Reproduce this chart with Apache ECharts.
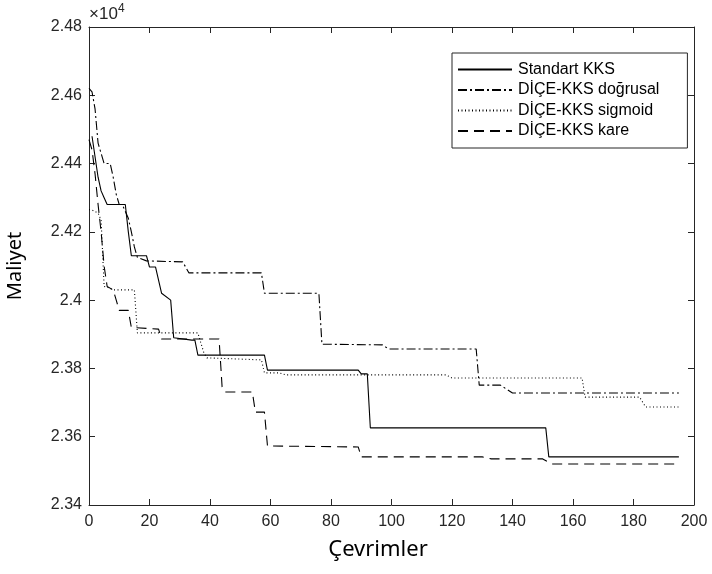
<!DOCTYPE html>
<html>
<head>
<meta charset="utf-8">
<script src="https://cdn.jsdelivr.net/npm/echarts@6/dist/echarts.min.js"></script>
<style>html,body{margin:0;padding:0;background:#fff}#c{width:712px;height:574px}</style>
</head>
<body>
<div id="c"></div>
<script>
// Values in units of 10^4
const seriesNames = ['Standart KKS', 'DİÇE-KKS doğrusal', 'DİÇE-KKS sigmoid', 'DİÇE-KKS kare'];

const stdX = [1, 2, 3, 4, 5, 6, 12, 13, 14, 19, 20, 22, 24, 27, 28, 34, 35, 36, 58, 59, 89, 90, 92, 93, 151, 152, 195];
const stdY = [2.448, 2.442, 2.436, 2.432, 2.430, 2.428, 2.428, 2.420, 2.413, 2.413, 2.4097, 2.4097, 2.402, 2.400, 2.389, 2.3883, 2.3883, 2.3839, 2.3839, 2.3795, 2.3795, 2.3784, 2.3784, 2.3626, 2.3626, 2.3541, 2.3541];

const linX = [0, 1, 2, 3, 4, 5, 7, 8, 9, 10, 11, 13, 14, 15, 16, 19, 31, 33, 57, 58, 76, 77, 97, 99, 128, 129, 136, 140, 195];
const linY = [2.462, 2.461, 2.456, 2.446, 2.443, 2.440, 2.440, 2.436, 2.431, 2.428, 2.428, 2.424, 2.420, 2.4156, 2.4125, 2.4115, 2.4112, 2.408, 2.408, 2.402, 2.402, 2.3871, 2.3869, 2.3857, 2.3857, 2.3751, 2.3751, 2.3728, 2.3728];

const sigX = [0, 1, 3, 4, 5, 6, 8, 15, 16, 36, 37, 38, 39, 57, 58, 63, 65, 118, 120, 163, 164, 182, 184, 195];
const sigY = [2.4265, 2.4264, 2.4255, 2.4235, 2.404, 2.4038, 2.403, 2.403, 2.3904, 2.3904, 2.3874, 2.3845, 2.3831, 2.3825, 2.3787, 2.3787, 2.3781, 2.3781, 2.3772, 2.3772, 2.3716, 2.3716, 2.3687, 2.3687];

const sqX = [0, 1, 2, 3, 4, 5, 6, 8, 9, 10, 13, 14, 23, 24, 43, 44, 45, 54, 55, 58, 59, 89, 90, 130, 133, 150, 153, 195];
const sqY = [2.447, 2.444, 2.437, 2.428, 2.420, 2.410, 2.404, 2.403, 2.400, 2.397, 2.397, 2.392, 2.3915, 2.3886, 2.3886, 2.3746, 2.3731, 2.3731, 2.3672, 2.3672, 2.3573, 2.357, 2.3541, 2.3541, 2.3535, 2.3535, 2.352, 2.352];

const xTicks = [0, 20, 40, 60, 80, 100, 120, 140, 160, 180, 200];
const yTicks = [2.34, 2.36, 2.38, 2.40, 2.42, 2.44, 2.46, 2.48];

function pairs(xs, ys) { return xs.map((x, i) => [x, ys[i]]); }

const axisColor = '#262626';
const fontFam = 'Liberation Sans, Arial, sans-serif';

const styles = [
  { type: 'solid' },
  { type: [9, 3, 2, 3] },
  { type: [1, 2.5] },
  { type: [10, 6] }
];
const datasets = [pairs(stdX, stdY), pairs(linX, linY), pairs(sigX, sigY), pairs(sqX, sqY)];

const chart = echarts.init(document.getElementById('c'), null, { renderer: 'canvas' });
chart.setOption({
  animation: false,
  backgroundColor: '#fff',
  grid: { left: 89, right: 18, top: 27, bottom: 69, containLabel: false },
  xAxis: [{
    type: 'value', min: xTicks[0], max: xTicks[xTicks.length - 1], interval: 20,
    axisLine: { show: true, lineStyle: { color: axisColor, width: 1 } },
    axisTick: { show: true, inside: true, length: 6, lineStyle: { color: axisColor } },
    axisLabel: { color: axisColor, fontSize: 16, fontFamily: fontFam, margin: 9 },
    splitLine: { show: false }
  }, {
    type: 'value', position: 'top', min: 0, max: 200, interval: 20,
    axisLine: { show: true, onZero: false, lineStyle: { color: axisColor, width: 1 } },
    axisTick: { show: true, inside: true, length: 6, lineStyle: { color: axisColor } },
    axisLabel: { show: false }, splitLine: { show: false }
  }],
  yAxis: [{
    type: 'value', min: yTicks[0], max: yTicks[yTicks.length - 1], interval: 0.02,
    axisLine: { show: true, lineStyle: { color: axisColor, width: 1 } },
    axisTick: { show: true, inside: true, length: 6, lineStyle: { color: axisColor } },
    axisLabel: { color: axisColor, fontSize: 16, fontFamily: fontFam, margin: 7,
      formatter: v => String(parseFloat(v.toFixed(2))) },
    splitLine: { show: false }
  }, {
    type: 'value', position: 'right', min: 2.34, max: 2.48, interval: 0.02,
    axisLine: { show: true, onZero: false, lineStyle: { color: axisColor, width: 1 } },
    axisTick: { show: true, inside: true, length: 6, lineStyle: { color: axisColor } },
    axisLabel: { show: false }, splitLine: { show: false }
  }],
  legend: {
    orient: 'vertical', left: 452, top: 53,
    itemWidth: 54, itemHeight: 14, itemGap: 4.5,
    padding: [8.5, 28, 9, 5],
    borderColor: axisColor, borderWidth: 1, backgroundColor: '#fff',
    itemStyle: { opacity: 0 },
    textStyle: { color: '#000', fontSize: 16, lineHeight: 16, fontFamily: fontFam, padding: [0, 0, 0, 1] },
    data: seriesNames
  },
  series: seriesNames.map((n, i) => ({
    name: n, type: 'line', data: datasets[i], symbol: 'none', showSymbol: false,
    color: '#000',
    lineStyle: Object.assign({ color: '#000', width: 1.1 }, styles[i]),
    z: 2
  })),
  graphic: [
    { type: 'text', left: 89, top: 6, style: { text: '×10', fontSize: 17, fontFamily: fontFam, fill: axisColor } },
    { type: 'text', left: 118, top: 3, style: { text: '4', fontSize: 12, fontFamily: fontFam, fill: axisColor } },
    { type: 'text', x: 378, y: 550, style: { text: 'Çevrimler', fontSize: 22, fontFamily: 'Noto Sans, sans-serif', fill: '#000', align: 'center', verticalAlign: 'middle' } },
    { type: 'text', x: 15, y: 266, rotation: Math.PI / 2, style: { text: 'Maliyet', fontSize: 20, fontFamily: 'Noto Sans, sans-serif', fill: '#000', align: 'center', verticalAlign: 'middle' } }
  ]
});
</script>
</body>
</html>
